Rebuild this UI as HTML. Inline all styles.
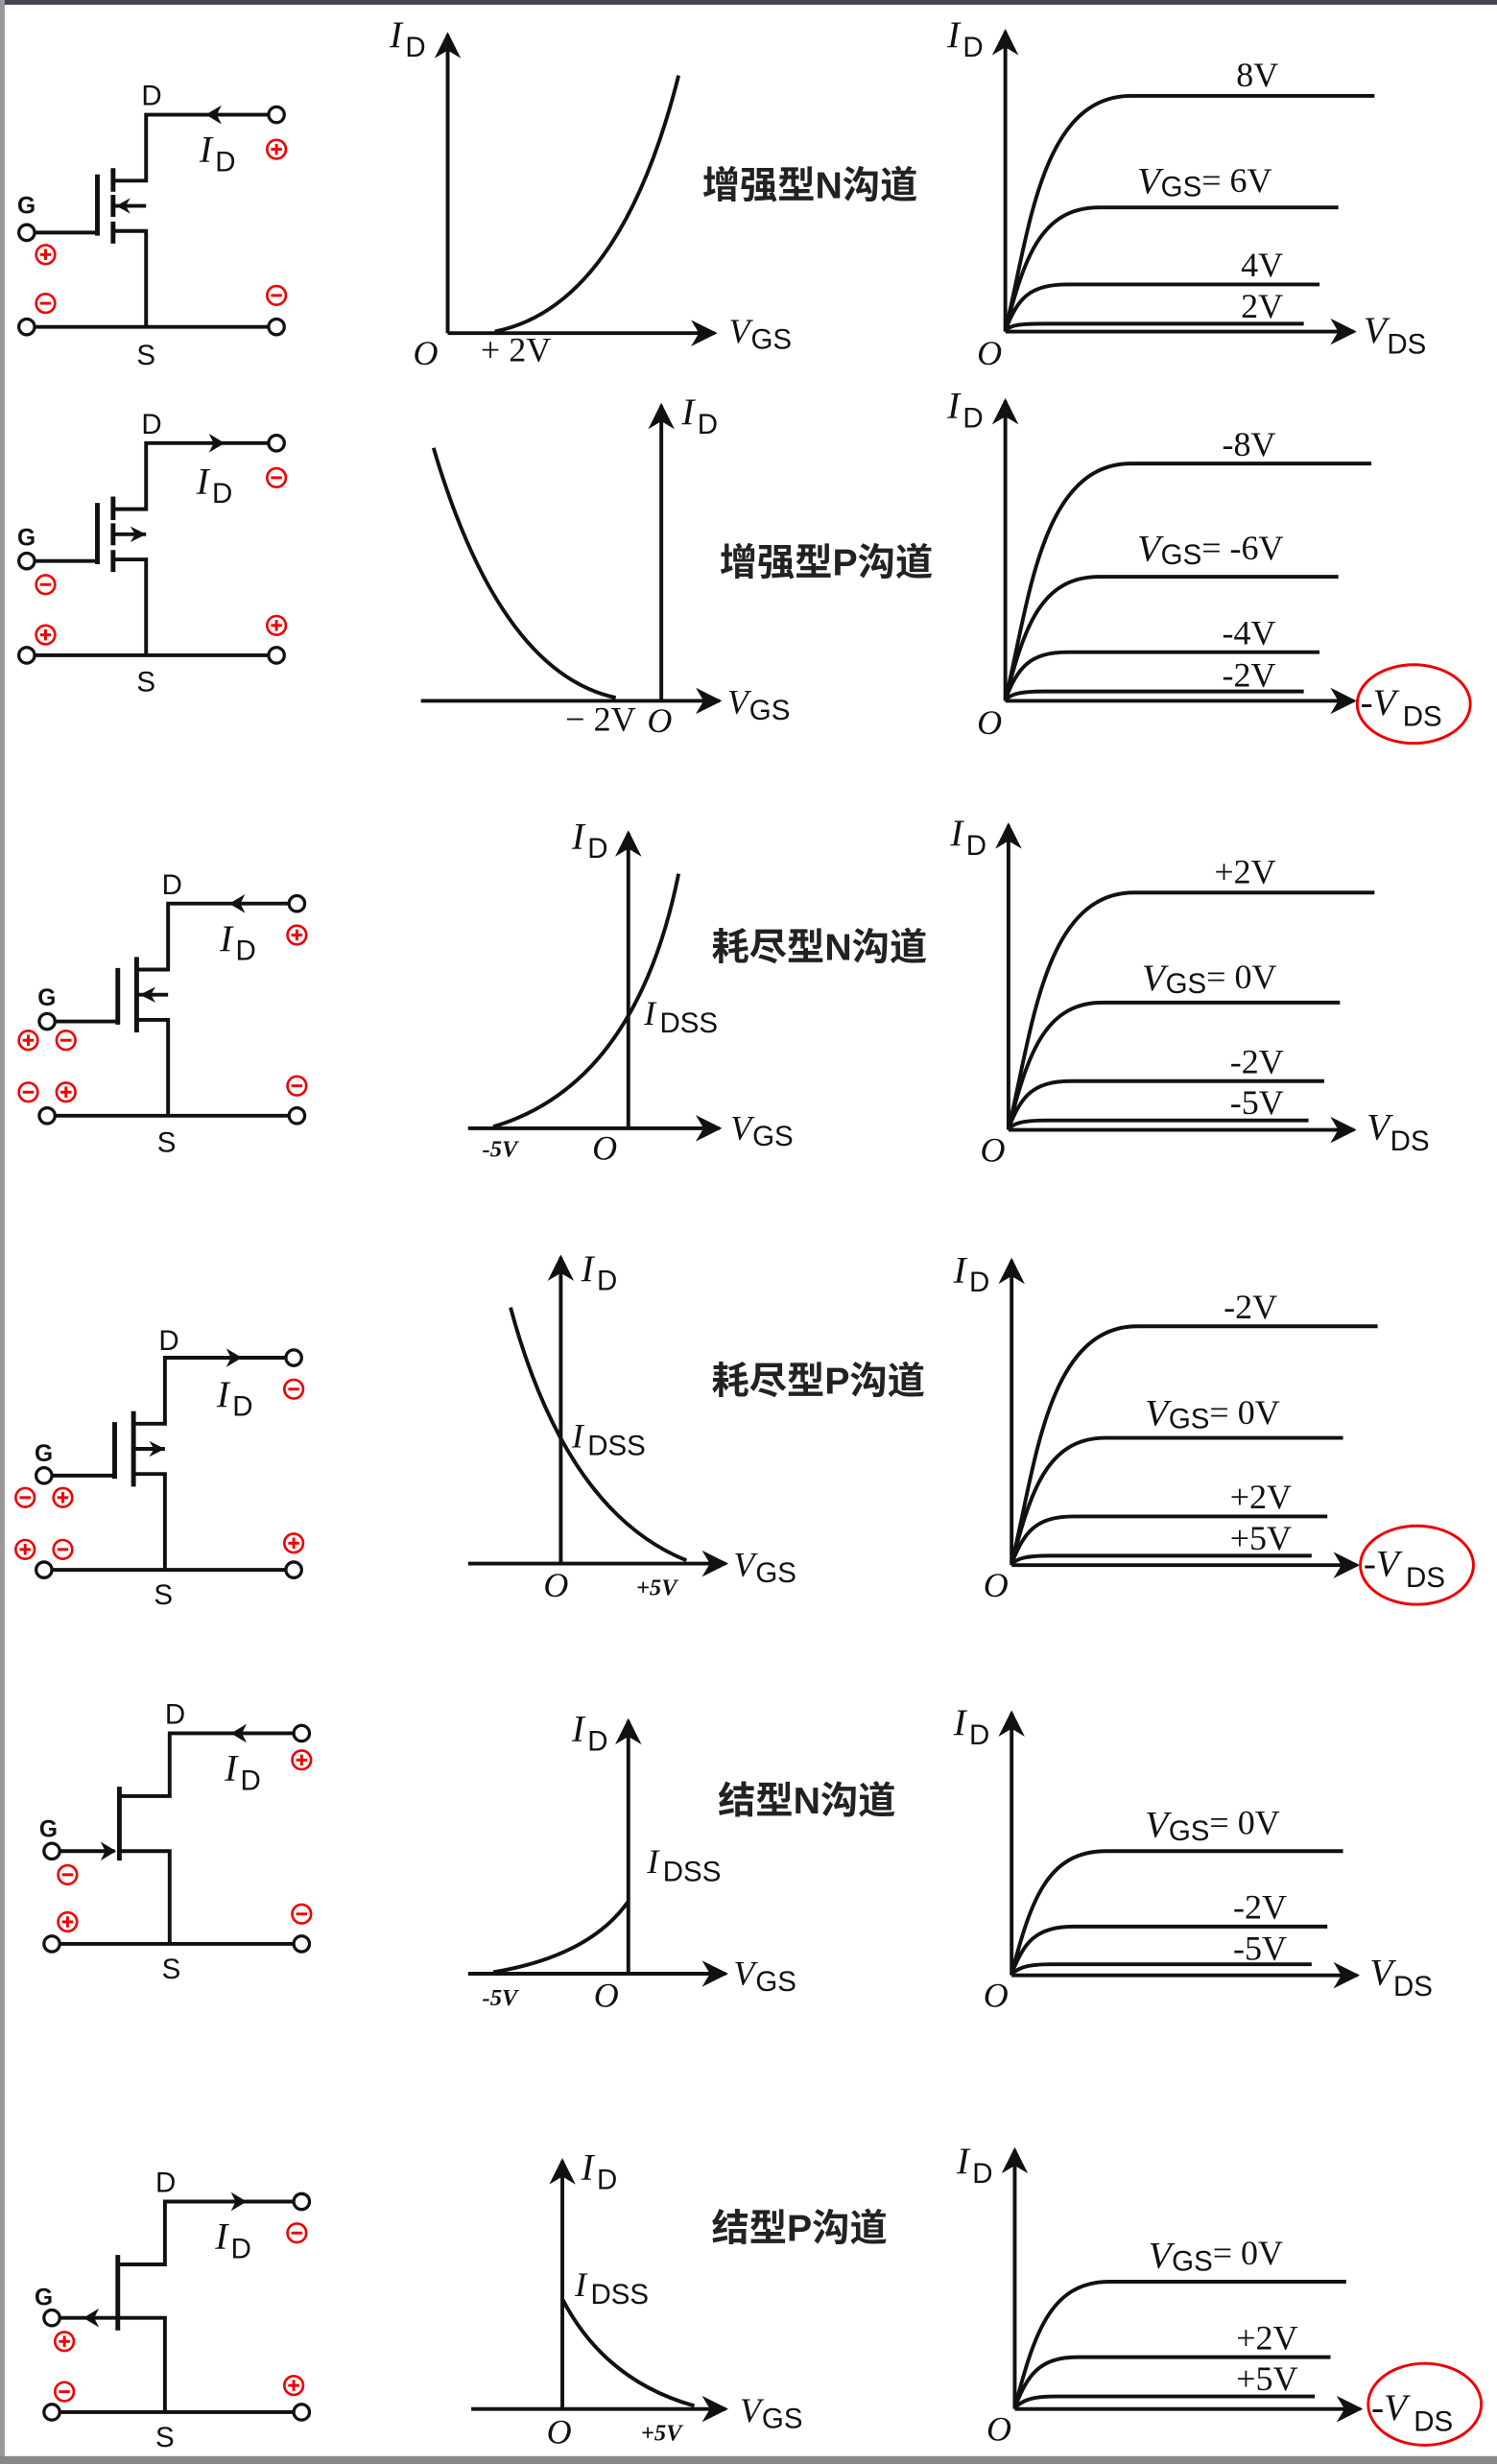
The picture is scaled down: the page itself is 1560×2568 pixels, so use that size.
<!DOCTYPE html>
<html><head><meta charset="utf-8"><style>
html,body{margin:0;padding:0;background:#fff}
svg{display:block}
.l{stroke:#111;stroke-width:2.4;fill:none}
.t{stroke:#111;stroke-width:3;fill:none}
.c{stroke:#111;stroke-width:2;fill:#fff}
.r{stroke:#e00;stroke-width:1.6;fill:none}
.rs{stroke:#e00;stroke-width:1.8}
.lab{font-family:"Liberation Serif",serif;font-style:italic;fill:#111}
.g{font-family:"Liberation Sans",sans-serif;font-weight:bold;fill:#111;font-size:15px}
.ds{font-family:"Liberation Sans",sans-serif;fill:#111;font-size:18px}
.cn{font-family:"Liberation Sans","Noto Sans CJK SC",sans-serif;font-weight:bold;fill:#222;font-size:24px}
.v{font-family:"Liberation Serif",serif;fill:#111;font-size:22px}
</style></head><body>
<svg width="1560" height="2568" viewBox="0 0 953 1568" preserveAspectRatio="none" xmlns="http://www.w3.org/2000/svg">
<rect x="0" y="0" width="953" height="1568" fill="#fff"/>
<rect x="0" y="0" width="953" height="3" fill="#445"/>
<rect x="0" y="0" width="3" height="1568" fill="#999"/>
<rect x="0" y="1563" width="953" height="5" fill="#888"/>
<defs>
<marker id="ar" viewBox="0 0 10 10" refX="9" refY="5" markerWidth="7" markerHeight="7" orient="auto"><path d="M0,0 L10,5 L0,10 L3,5z" fill="#111"/></marker>
</defs>

<!-- ========== CIRCUITS ========== -->
<!-- Row1 enhancement N -->
<g transform="translate(17,208)">
<line class="l" x1="5" y1="0" x2="154" y2="0"/><circle class="c" cx="0" cy="0" r="5"/><circle class="c" cx="159" cy="0" r="5"/>
<polyline class="l" points="154,-135 76,-135 76,-93 55,-93"/><circle class="c" cx="159" cy="-135" r="5"/>
<polyline class="l" points="55,-61 76,-61 76,0"/><line class="l" x1="55" y1="-77" x2="76" y2="-77"/>
<path d="M57,-77 L66,-82 L63,-77 L66,-72z" fill="#111"/>
<line class="t" x1="55" y1="-101" x2="55" y2="-86"/><line class="t" x1="55" y1="-84" x2="55" y2="-70"/><line class="t" x1="55" y1="-67" x2="55" y2="-53"/>
<line class="t" x1="45" y1="-97" x2="45" y2="-58"/><line class="l" x1="5" y1="-60" x2="45" y2="-60"/><circle class="c" cx="0" cy="-60" r="5"/>
<path d="M114,-135 L124,-141 L121,-135 L124,-129z" fill="#111"/>
<text class="g" x="-6" y="-72">G</text><text class="ds" x="73" y="-141">D</text><text class="ds" x="70" y="24">S</text>
<text class="lab" x="110" y="-105" font-size="24">I</text><text class="ds" x="120" y="-99" font-size="20">D</text>
<g transform="translate(159,-113)"><circle class="r" r="6"/><line class="rs" x1="-3.5" y1="0" x2="3.5" y2="0"/><line class="rs" x1="0" y1="-3.5" x2="0" y2="3.5"/></g>
<g transform="translate(159,-20)"><circle class="r" r="6"/><line class="rs" x1="-3.5" y1="0" x2="3.5" y2="0"/></g>
<g transform="translate(12,-46)"><circle class="r" r="6"/><line class="rs" x1="-3.5" y1="0" x2="3.5" y2="0"/><line class="rs" x1="0" y1="-3.5" x2="0" y2="3.5"/></g>
<g transform="translate(12,-15)"><circle class="r" r="6"/><line class="rs" x1="-3.5" y1="0" x2="3.5" y2="0"/></g>
</g>

<!-- Row2 enhancement P -->
<g transform="translate(17,417)">
<line class="l" x1="5" y1="0" x2="154" y2="0"/><circle class="c" cx="0" cy="0" r="5"/><circle class="c" cx="159" cy="0" r="5"/>
<polyline class="l" points="154,-135 76,-135 76,-93 55,-93"/><circle class="c" cx="159" cy="-135" r="5"/>
<polyline class="l" points="55,-61 76,-61 76,0"/><line class="l" x1="55" y1="-77" x2="76" y2="-77"/>
<path d="M76,-77 L66,-82 L69,-77 L66,-72z" fill="#111"/>
<line class="t" x1="55" y1="-101" x2="55" y2="-86"/><line class="t" x1="55" y1="-84" x2="55" y2="-70"/><line class="t" x1="55" y1="-67" x2="55" y2="-53"/>
<line class="t" x1="45" y1="-97" x2="45" y2="-58"/><line class="l" x1="5" y1="-60" x2="45" y2="-60"/><circle class="c" cx="0" cy="-60" r="5"/>
<path d="M126,-135 L116,-141 L119,-135 L116,-129z" fill="#111"/>
<text class="g" x="-6" y="-70">G</text><text class="ds" x="73" y="-141">D</text><text class="ds" x="70" y="23">S</text>
<text class="lab" x="108" y="-103" font-size="24">I</text><text class="ds" x="118" y="-97" font-size="20">D</text>
<g transform="translate(159,-113)"><circle class="r" r="6"/><line class="rs" x1="-3.5" y1="0" x2="3.5" y2="0"/></g>
<g transform="translate(159,-19)"><circle class="r" r="6"/><line class="rs" x1="-3.5" y1="0" x2="3.5" y2="0"/><line class="rs" x1="0" y1="-3.5" x2="0" y2="3.5"/></g>
<g transform="translate(12,-45)"><circle class="r" r="6"/><line class="rs" x1="-3.5" y1="0" x2="3.5" y2="0"/></g>
<g transform="translate(12,-13)"><circle class="r" r="6"/><line class="rs" x1="-3.5" y1="0" x2="3.5" y2="0"/><line class="rs" x1="0" y1="-3.5" x2="0" y2="3.5"/></g>
</g>

<!-- Row3 depletion N -->
<g transform="translate(30,710)">
<line class="l" x1="5" y1="0" x2="154" y2="0"/><circle class="c" cx="0" cy="0" r="5"/><circle class="c" cx="159" cy="0" r="5"/>
<polyline class="l" points="154,-135 77,-135 77,-93 57,-93"/><circle class="c" cx="159" cy="-135" r="5"/>
<polyline class="l" points="57,-61 77,-61 77,0"/><line class="l" x1="57" y1="-77" x2="77" y2="-77"/>
<path d="M59,-77 L69,-82 L66,-77 L69,-72z" fill="#111"/>
<line class="t" x1="57" y1="-101" x2="57" y2="-53"/>
<line class="t" x1="45" y1="-94" x2="45" y2="-58"/><line class="l" x1="5" y1="-60" x2="45" y2="-60"/><circle class="c" cx="0" cy="-60" r="5"/>
<path d="M116,-135 L126,-141 L123,-135 L126,-129z" fill="#111"/>
<text class="g" x="-6" y="-70">G</text><text class="ds" x="73" y="-141">D</text><text class="ds" x="70" y="23">S</text>
<text class="lab" x="110" y="-105" font-size="24">I</text><text class="ds" x="120" y="-99" font-size="20">D</text>
<g transform="translate(159,-115)"><circle class="r" r="6"/><line class="rs" x1="-3.5" y1="0" x2="3.5" y2="0"/><line class="rs" x1="0" y1="-3.5" x2="0" y2="3.5"/></g>
<g transform="translate(159,-19)"><circle class="r" r="6"/><line class="rs" x1="-3.5" y1="0" x2="3.5" y2="0"/></g>
<g transform="translate(-12,-48)"><circle class="r" r="6"/><line class="rs" x1="-3.5" y1="0" x2="3.5" y2="0"/><line class="rs" x1="0" y1="-3.5" x2="0" y2="3.5"/></g>
<g transform="translate(12,-48)"><circle class="r" r="6"/><line class="rs" x1="-3.5" y1="0" x2="3.5" y2="0"/></g>
<g transform="translate(-12,-15)"><circle class="r" r="6"/><line class="rs" x1="-3.5" y1="0" x2="3.5" y2="0"/></g>
<g transform="translate(12,-15)"><circle class="r" r="6"/><line class="rs" x1="-3.5" y1="0" x2="3.5" y2="0"/><line class="rs" x1="0" y1="-3.5" x2="0" y2="3.5"/></g>
</g>

<!-- Row4 depletion P -->
<g transform="translate(28,999)">
<line class="l" x1="5" y1="0" x2="154" y2="0"/><circle class="c" cx="0" cy="0" r="5"/><circle class="c" cx="159" cy="0" r="5"/>
<polyline class="l" points="154,-135 77,-135 77,-93 57,-93"/><circle class="c" cx="159" cy="-135" r="5"/>
<polyline class="l" points="57,-61 77,-61 77,0"/><line class="l" x1="57" y1="-77" x2="77" y2="-77"/>
<path d="M77,-77 L67,-82 L70,-77 L67,-72z" fill="#111"/>
<line class="t" x1="57" y1="-101" x2="57" y2="-53"/>
<line class="t" x1="45" y1="-94" x2="45" y2="-58"/><line class="l" x1="5" y1="-60" x2="45" y2="-60"/><circle class="c" cx="0" cy="-60" r="5"/>
<path d="M126,-135 L116,-141 L119,-135 L116,-129z" fill="#111"/>
<text class="g" x="-6" y="-69">G</text><text class="ds" x="73" y="-140">D</text><text class="ds" x="70" y="22">S</text>
<text class="lab" x="110" y="-104" font-size="24">I</text><text class="ds" x="120" y="-98" font-size="20">D</text>
<g transform="translate(159,-115)"><circle class="r" r="6"/><line class="rs" x1="-3.5" y1="0" x2="3.5" y2="0"/></g>
<g transform="translate(159,-17)"><circle class="r" r="6"/><line class="rs" x1="-3.5" y1="0" x2="3.5" y2="0"/><line class="rs" x1="0" y1="-3.5" x2="0" y2="3.5"/></g>
<g transform="translate(-12,-46)"><circle class="r" r="6"/><line class="rs" x1="-3.5" y1="0" x2="3.5" y2="0"/></g>
<g transform="translate(12,-46)"><circle class="r" r="6"/><line class="rs" x1="-3.5" y1="0" x2="3.5" y2="0"/><line class="rs" x1="0" y1="-3.5" x2="0" y2="3.5"/></g>
<g transform="translate(-12,-13)"><circle class="r" r="6"/><line class="rs" x1="-3.5" y1="0" x2="3.5" y2="0"/><line class="rs" x1="0" y1="-3.5" x2="0" y2="3.5"/></g>
<g transform="translate(12,-13)"><circle class="r" r="6"/><line class="rs" x1="-3.5" y1="0" x2="3.5" y2="0"/></g>
</g>

<!-- Row5 JFET N -->
<g transform="translate(33,1237)">
<line class="l" x1="5" y1="0" x2="154" y2="0"/><circle class="c" cx="0" cy="0" r="5"/><circle class="c" cx="159" cy="0" r="5"/>
<polyline class="l" points="154,-134 75,-134 75,-94 43,-94"/><circle class="c" cx="159" cy="-134" r="5"/>
<polyline class="l" points="43,-59 75,-59 75,0"/>
<line class="t" x1="43" y1="-100" x2="43" y2="-53"/>
<line class="l" x1="5" y1="-59" x2="40" y2="-59"/><circle class="c" cx="0" cy="-59" r="5"/>
<path d="M41,-59 L31,-65 L34,-59 L31,-53z" fill="#111"/>
<path d="M114,-134 L124,-140 L121,-134 L124,-128z" fill="#111"/>
<text class="g" x="-8" y="-68">G</text><text class="ds" x="72" y="-140">D</text><text class="ds" x="70" y="22">S</text>
<text class="lab" x="110" y="-104" font-size="24">I</text><text class="ds" x="120" y="-98" font-size="20">D</text>
<g transform="translate(159,-117)"><circle class="r" r="6"/><line class="rs" x1="-3.5" y1="0" x2="3.5" y2="0"/><line class="rs" x1="0" y1="-3.5" x2="0" y2="3.5"/></g>
<g transform="translate(159,-19)"><circle class="r" r="6"/><line class="rs" x1="-3.5" y1="0" x2="3.5" y2="0"/></g>
<g transform="translate(10,-44)"><circle class="r" r="6"/><line class="rs" x1="-3.5" y1="0" x2="3.5" y2="0"/></g>
<g transform="translate(10,-14)"><circle class="r" r="6"/><line class="rs" x1="-3.5" y1="0" x2="3.5" y2="0"/><line class="rs" x1="0" y1="-3.5" x2="0" y2="3.5"/></g>
</g>

<!-- Row6 JFET P -->
<g transform="translate(33,1535)">
<line class="l" x1="5" y1="0" x2="154" y2="0"/><circle class="c" cx="0" cy="0" r="5"/><circle class="c" cx="159" cy="0" r="5"/>
<polyline class="l" points="154,-134 72,-134 72,-94 42,-94"/><circle class="c" cx="159" cy="-134" r="5"/>
<polyline class="l" points="42,-60 72,-60 72,0"/>
<line class="t" x1="42" y1="-100" x2="42" y2="-52"/>
<line class="l" x1="5" y1="-60" x2="42" y2="-60"/><circle class="c" cx="0" cy="-60" r="5"/>
<path d="M20,-60 L30,-66 L27,-60 L30,-54z" fill="#111"/>
<path d="M124,-134 L114,-140 L117,-134 L114,-128z" fill="#111"/>
<text class="g" x="-11" y="-68">G</text><text class="ds" x="66" y="-140">D</text><text class="ds" x="66" y="22">S</text>
<text class="lab" x="104" y="-104" font-size="24">I</text><text class="ds" x="114" y="-98" font-size="20">D</text>
<g transform="translate(156,-114)"><circle class="r" r="6"/><line class="rs" x1="-3.5" y1="0" x2="3.5" y2="0"/></g>
<g transform="translate(154,-17)"><circle class="r" r="6"/><line class="rs" x1="-3.5" y1="0" x2="3.5" y2="0"/><line class="rs" x1="0" y1="-3.5" x2="0" y2="3.5"/></g>
<g transform="translate(8,-45)"><circle class="r" r="6"/><line class="rs" x1="-3.5" y1="0" x2="3.5" y2="0"/><line class="rs" x1="0" y1="-3.5" x2="0" y2="3.5"/></g>
<g transform="translate(8,-13)"><circle class="r" r="6"/><line class="rs" x1="-3.5" y1="0" x2="3.5" y2="0"/></g>
</g>

<!-- ========== TRANSFER CURVES ========== -->
<g>
<line class="l" x1="285" y1="212" x2="285" y2="22" marker-end="url(#ar)"/>
<line class="l" x1="285" y1="212" x2="455" y2="212" marker-end="url(#ar)"/>
<path class="l" d="M315,211 Q395,195 432,48"/>
<text class="lab" x="248" y="30" font-size="24">I</text><text class="ds" x="258" y="36" font-size="20">D</text>
<text class="lab" x="263" y="232" font-size="22">O</text>
<text class="v" x="306" y="230" font-size="18">+ 2V</text>
<text class="lab" x="464" y="218" font-size="22">V</text><text class="ds" x="478" y="222" font-size="16">GS</text>
<text class="cn" x="447" y="126">增强型N沟道</text>
</g>
<g>
<line class="l" x1="421" y1="446" x2="421" y2="258" marker-end="url(#ar)"/>
<line class="l" x1="268" y1="446" x2="458" y2="446" marker-end="url(#ar)"/>
<path class="l" d="M276,285 Q318,428 392,444"/>
<text class="lab" x="434" y="270" font-size="24">I</text><text class="ds" x="444" y="276" font-size="20">D</text>
<text class="lab" x="412" y="466" font-size="22">O</text>
<text class="v" x="360" y="465" font-size="18">− 2V</text>
<text class="lab" x="463" y="454" font-size="22">V</text><text class="ds" x="477" y="458" font-size="16">GS</text>
<text class="cn" x="458" y="366">增强型P沟道</text>
</g>
<g>
<line class="l" x1="400" y1="718" x2="400" y2="530" marker-end="url(#ar)"/>
<line class="l" x1="298" y1="718" x2="458" y2="718" marker-end="url(#ar)"/>
<path class="l" d="M314,717 Q405,690 432,556"/>
<text class="lab" x="364" y="540" font-size="24">I</text><text class="ds" x="374" y="546" font-size="20">D</text>
<text class="lab" x="410" y="652" font-size="22">I</text><text class="ds" x="420" y="657" font-size="17">DSS</text>
<text class="lab" x="377" y="738" font-size="22">O</text>
<text class="lab" x="307" y="736" font-size="15" font-weight="bold">-5V</text>
<text class="lab" x="465" y="725" font-size="22">V</text><text class="ds" x="479" y="729" font-size="16">GS</text>
<text class="cn" x="453" y="611">耗尽型N沟道</text>
</g>
<g>
<line class="l" x1="357" y1="995" x2="357" y2="800" marker-end="url(#ar)"/>
<line class="l" x1="298" y1="995" x2="462" y2="995" marker-end="url(#ar)"/>
<path class="l" d="M325,832 Q360,962 437,993"/>
<text class="lab" x="370" y="815" font-size="24">I</text><text class="ds" x="380" y="821" font-size="20">D</text>
<text class="lab" x="364" y="921" font-size="22">I</text><text class="ds" x="374" y="926" font-size="17">DSS</text>
<text class="lab" x="346" y="1016" font-size="22">O</text>
<text class="lab" x="405" y="1015" font-size="15" font-weight="bold">+5V</text>
<text class="lab" x="467" y="1003" font-size="22">V</text><text class="ds" x="481" y="1007" font-size="16">GS</text>
<text class="cn" x="453" y="887">耗尽型P沟道</text>
</g>
<g>
<line class="l" x1="400" y1="1256" x2="400" y2="1095" marker-end="url(#ar)"/>
<line class="l" x1="298" y1="1256" x2="462" y2="1256" marker-end="url(#ar)"/>
<path class="l" d="M314,1255 Q375,1245 400,1210"/>
<text class="lab" x="364" y="1108" font-size="24">I</text><text class="ds" x="374" y="1114" font-size="20">D</text>
<text class="lab" x="412" y="1192" font-size="22">I</text><text class="ds" x="422" y="1197" font-size="17">DSS</text>
<text class="lab" x="378" y="1277" font-size="22">O</text>
<text class="lab" x="307" y="1276" font-size="15" font-weight="bold">-5V</text>
<text class="lab" x="467" y="1263" font-size="22">V</text><text class="ds" x="481" y="1267" font-size="16">GS</text>
<text class="cn" x="457" y="1154">结型N沟道</text>
</g>
<g>
<line class="l" x1="358" y1="1533" x2="358" y2="1375" marker-end="url(#ar)"/>
<line class="l" x1="300" y1="1533" x2="462" y2="1533" marker-end="url(#ar)"/>
<path class="l" d="M358,1463 Q385,1515 442,1531"/>
<text class="lab" x="370" y="1387" font-size="24">I</text><text class="ds" x="380" y="1393" font-size="20">D</text>
<text class="lab" x="366" y="1461" font-size="22">I</text><text class="ds" x="376" y="1466" font-size="17">DSS</text>
<text class="lab" x="348" y="1555" font-size="22">O</text>
<text class="lab" x="408" y="1553" font-size="15" font-weight="bold">+5V</text>
<text class="lab" x="471" y="1541" font-size="22">V</text><text class="ds" x="485" y="1545" font-size="16">GS</text>
<text class="cn" x="453" y="1426">结型P沟道</text>
</g>

<!-- ========== OUTPUT CURVES ========== -->
<!-- Row1 -->
<g>
<line class="l" x1="640" y1="211" x2="640" y2="20" marker-end="url(#ar)"/>
<line class="l" x1="640" y1="211" x2="862" y2="211" marker-end="url(#ar)"/>
<path class="l" d="M640,210 C655,150 662,61 720,61 L875,61"/>
<path class="l" d="M640,210 C652,165 662,132 700,132 L852,132"/>
<path class="l" d="M640,210 C648,190 655,181 680,181 L840,181"/>
<path class="l" d="M640,210 C644,207 648,206 665,206 L830,206"/>
<text class="lab" x="603" y="30" font-size="24">I</text><text class="ds" x="613" y="36" font-size="20">D</text>
<text class="lab" x="622" y="232" font-size="22">O</text>
<text class="v" x="787" y="55">8V</text>
<text class="lab" x="724" y="123" font-size="24">V</text><text class="ds" x="739" y="125" font-size="16">GS</text><text class="v" x="765" y="122">= 6V</text>
<text class="v" x="790" y="176">4V</text><text class="v" x="790" y="202">2V</text>
<text class="lab" x="868" y="218" font-size="24">V</text><text class="ds" x="883" y="225" font-size="18">DS</text>
</g>
<!-- Row2 -->
<g>
<line class="l" x1="640" y1="446" x2="640" y2="255" marker-end="url(#ar)"/>
<line class="l" x1="640" y1="446" x2="862" y2="446" marker-end="url(#ar)"/>
<path class="l" d="M640,445 C655,385 662,295 720,295 L873,295"/>
<path class="l" d="M640,445 C652,400 662,367 700,367 L852,367"/>
<path class="l" d="M640,445 C648,425 655,415 680,415 L840,415"/>
<path class="l" d="M640,445 C644,442 648,440 665,440 L830,440"/>
<text class="lab" x="603" y="266" font-size="24">I</text><text class="ds" x="613" y="272" font-size="20">D</text>
<text class="lab" x="622" y="467" font-size="22">O</text>
<text class="v" x="778" y="290">-8V</text>
<text class="lab" x="724" y="357" font-size="24">V</text><text class="ds" x="739" y="359" font-size="16">GS</text><text class="v" x="765" y="356">= -6V</text>
<text class="v" x="778" y="410">-4V</text><text class="v" x="778" y="437">-2V</text>
<text class="lab" x="866" y="455" font-size="24">-V</text><text class="ds" x="893" y="462" font-size="18">DS</text>
<ellipse cx="900" cy="448" rx="36" ry="25" fill="none" stroke="#e00" stroke-width="1.8"/>
</g>
<!-- Row3 -->
<g>
<line class="l" x1="642" y1="719" x2="642" y2="525" marker-end="url(#ar)"/>
<line class="l" x1="642" y1="719" x2="862" y2="719" marker-end="url(#ar)"/>
<path class="l" d="M642,718 C657,658 664,568 722,568 L875,568"/>
<path class="l" d="M642,718 C654,673 664,638 702,638 L853,638"/>
<path class="l" d="M642,718 C650,698 657,688 682,688 L843,688"/>
<path class="l" d="M642,718 C646,715 650,713 667,713 L833,713"/>
<text class="lab" x="605" y="538" font-size="24">I</text><text class="ds" x="615" y="544" font-size="20">D</text>
<text class="lab" x="624" y="739" font-size="22">O</text>
<text class="v" x="773" y="562">+2V</text>
<text class="lab" x="727" y="630" font-size="24">V</text><text class="ds" x="742" y="632" font-size="16">GS</text><text class="v" x="768" y="629">= 0V</text>
<text class="v" x="783" y="683">-2V</text><text class="v" x="783" y="709">-5V</text>
<text class="lab" x="870" y="725" font-size="24">V</text><text class="ds" x="885" y="732" font-size="18">DS</text>
</g>
<!-- Row4 -->
<g>
<line class="l" x1="644" y1="996" x2="644" y2="802" marker-end="url(#ar)"/>
<line class="l" x1="644" y1="996" x2="864" y2="996" marker-end="url(#ar)"/>
<path class="l" d="M644,995 C659,935 666,844 724,844 L877,844"/>
<path class="l" d="M644,995 C656,950 666,915 704,915 L855,915"/>
<path class="l" d="M644,995 C652,975 659,965 684,965 L845,965"/>
<path class="l" d="M644,995 C648,992 652,990 669,990 L835,990"/>
<text class="lab" x="607" y="816" font-size="24">I</text><text class="ds" x="617" y="822" font-size="20">D</text>
<text class="lab" x="626" y="1016" font-size="22">O</text>
<text class="v" x="779" y="839">-2V</text>
<text class="lab" x="729" y="907" font-size="24">V</text><text class="ds" x="744" y="909" font-size="16">GS</text><text class="v" x="770" y="906">= 0V</text>
<text class="v" x="783" y="960">+2V</text><text class="v" x="783" y="986">+5V</text>
<text class="lab" x="868" y="1003" font-size="24">-V</text><text class="ds" x="895" y="1010" font-size="18">DS</text>
<ellipse cx="902" cy="996" rx="36" ry="25" fill="none" stroke="#e00" stroke-width="1.8"/>
</g>
<!-- Row5 -->
<g>
<line class="l" x1="644" y1="1257" x2="644" y2="1090" marker-end="url(#ar)"/>
<line class="l" x1="644" y1="1257" x2="864" y2="1257" marker-end="url(#ar)"/>
<path class="l" d="M644,1256 C656,1211 666,1178 704,1178 L855,1178"/>
<path class="l" d="M644,1256 C652,1236 659,1226 684,1226 L845,1226"/>
<path class="l" d="M644,1256 C648,1253 652,1250 669,1250 L835,1250"/>
<text class="lab" x="607" y="1104" font-size="24">I</text><text class="ds" x="617" y="1110" font-size="20">D</text>
<text class="lab" x="626" y="1277" font-size="22">O</text>
<text class="lab" x="729" y="1169" font-size="24">V</text><text class="ds" x="744" y="1171" font-size="16">GS</text><text class="v" x="770" y="1167">= 0V</text>
<text class="v" x="785" y="1221">-2V</text><text class="v" x="785" y="1247">-5V</text>
<text class="lab" x="872" y="1263" font-size="24">V</text><text class="ds" x="887" y="1270" font-size="18">DS</text>
</g>
<!-- Row6 -->
<g>
<line class="l" x1="646" y1="1533" x2="646" y2="1368" marker-end="url(#ar)"/>
<line class="l" x1="646" y1="1533" x2="866" y2="1533" marker-end="url(#ar)"/>
<path class="l" d="M646,1532 C658,1487 668,1452 706,1452 L857,1452"/>
<path class="l" d="M646,1532 C654,1512 661,1500 686,1500 L847,1500"/>
<path class="l" d="M646,1532 C650,1529 654,1525 671,1525 L837,1525"/>
<text class="lab" x="609" y="1383" font-size="24">I</text><text class="ds" x="619" y="1389" font-size="20">D</text>
<text class="lab" x="628" y="1553" font-size="22">O</text>
<text class="lab" x="731" y="1443" font-size="24">V</text><text class="ds" x="746" y="1445" font-size="16">GS</text><text class="v" x="772" y="1441">= 0V</text>
<text class="v" x="787" y="1495">+2V</text><text class="v" x="787" y="1521">+5V</text>
<text class="lab" x="873" y="1540" font-size="24">-V</text><text class="ds" x="900" y="1547" font-size="18">DS</text>
<ellipse cx="907" cy="1530" rx="36" ry="26" fill="none" stroke="#e00" stroke-width="1.8"/>
</g>
</svg>
</body></html>
